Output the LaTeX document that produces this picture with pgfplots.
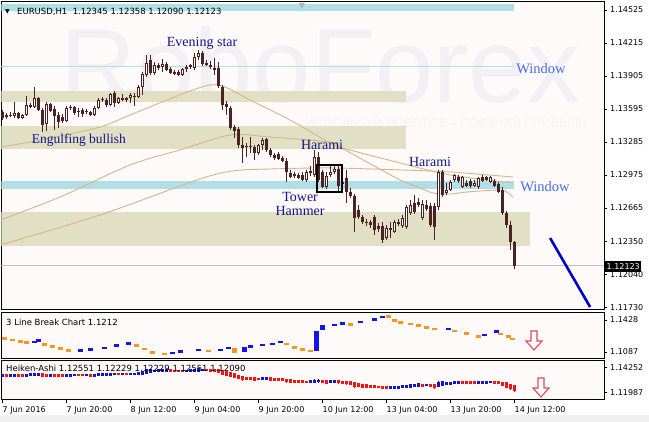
\documentclass[border=0pt]{standalone}
\usepackage{pgfplots}
\pgfplotsset{compat=1.18}
\usepackage{pgfplotstable}
\usepackage{fontspec}
\setmainfont{DejaVu Sans}
\newfontfamily\lser{Liberation Serif}
\newfontfamily\lsans{Liberation Sans}
\definecolor{bg}{RGB}{253,250,249}
\definecolor{bottomgray}{RGB}{240,240,240}
\definecolor{candle}{RGB}{74,36,36}
\definecolor{khaki}{RGB}{225,224,197}
\definecolor{pblue}{RGB}{176,223,229}
\definecolor{ma}{RGB}{214,181,140}
\definecolor{navyt}{RGB}{20,20,140}
\definecolor{winblue}{RGB}{70,110,230}
\definecolor{lborange}{RGB}{250,150,30}
\definecolor{lbblue}{RGB}{20,20,230}
\definecolor{hared}{RGB}{240,20,20}
\definecolor{hablue}{RGB}{20,20,200}
\definecolor{wm}{RGB}{242,240,244}
\definecolor{wm2}{RGB}{246,243,245}
\definecolor{arrowc}{RGB}{225,70,100}
\definecolor{trend}{RGB}{0,0,200}
\definecolor{pricegray}{RGB}{192,192,192}
\newcommand{\tickf}{\fontsize{8}{9}\selectfont}
\newcommand{\labf}{\fontsize{8.5}{10}\selectfont}

\pgfplotstableread{
i O H L C HO HC
0 1.13567 1.13586 1.13492 1.13511 1.13530 1.13539
1 1.13520 1.13558 1.13501 1.13539 1.13534 1.13530
2 1.13539 1.13567 1.13520 1.13530 1.13532 1.13539
3 1.13530 1.13661 1.13511 1.13558 1.13535 1.13565
4 1.13558 1.13567 1.13501 1.13511 1.13550 1.13534
5 1.13511 1.13548 1.13501 1.13539 1.13542 1.13525
6 1.13539 1.13718 1.13530 1.13633 1.13534 1.13605
7 1.13633 1.13652 1.13605 1.13614 1.13569 1.13626
8 1.13614 1.13802 1.13605 1.13699 1.13597 1.13680
9 1.13699 1.13708 1.13577 1.13586 1.13639 1.13642
10 1.13586 1.13605 1.13379 1.13445 1.13641 1.13504
11 1.13454 1.13661 1.13389 1.13642 1.13572 1.13537
12 1.13642 1.13652 1.13567 1.13577 1.13554 1.13609
13 1.13595 1.13624 1.13398 1.13530 1.13582 1.13537
14 1.13539 1.13567 1.13417 1.13473 1.13560 1.13499
15 1.13520 1.13548 1.13464 1.13483 1.13530 1.13504
16 1.13483 1.13624 1.13473 1.13605 1.13517 1.13546
17 1.13605 1.13633 1.13586 1.13614 1.13532 1.13609
18 1.13614 1.13624 1.13539 1.13558 1.13570 1.13584
19 1.13577 1.13605 1.13520 1.13567 1.13577 1.13567
20 1.13586 1.13605 1.13520 1.13548 1.13572 1.13565
21 1.13577 1.13595 1.13548 1.13567 1.13568 1.13572
22 1.13567 1.13577 1.13530 1.13539 1.13570 1.13553
23 1.13539 1.13624 1.13530 1.13605 1.13562 1.13574
24 1.13605 1.13699 1.13595 1.13680 1.13568 1.13645
25 1.13680 1.13708 1.13661 1.13689 1.13607 1.13686
26 1.13680 1.13699 1.13614 1.13633 1.13646 1.13657
27 1.13633 1.13746 1.13624 1.13736 1.13651 1.13686
28 1.13746 1.13765 1.13614 1.13652 1.13668 1.13694
29 1.13652 1.13708 1.13642 1.13699 1.13681 1.13675
30 1.13699 1.13736 1.13671 1.13680 1.13678 1.13697
31 1.13680 1.13708 1.13661 1.13699 1.13688 1.13687
32 1.13699 1.13746 1.13652 1.13727 1.13688 1.13706
33 1.13718 1.13746 1.13624 1.13708 1.13698 1.13699
34 1.13708 1.13821 1.13699 1.13802 1.13698 1.13757
35 1.13802 1.13943 1.13727 1.13924 1.13728 1.13849
36 1.13915 1.14103 1.13896 1.14028 1.13788 1.13985
37 1.14056 1.14103 1.13915 1.13934 1.13887 1.14002
38 1.13934 1.14037 1.13915 1.14009 1.13944 1.13973
39 1.14009 1.14028 1.13962 1.13981 1.13959 1.13995
40 1.13990 1.14065 1.13943 1.14018 1.13977 1.14004
41 1.14018 1.14037 1.13953 1.13962 1.13990 1.13992
42 1.13971 1.13990 1.13924 1.13934 1.13991 1.13955
43 1.13943 1.13962 1.13915 1.13924 1.13973 1.13936
44 1.13943 1.13962 1.13906 1.13915 1.13954 1.13931
45 1.13915 1.13981 1.13906 1.13971 1.13943 1.13942
46 1.13971 1.14009 1.13943 1.13990 1.13943 1.13978
47 1.13990 1.14018 1.13971 1.14009 1.13961 1.13997
48 1.13981 1.14122 1.13962 1.14084 1.13979 1.14037
49 1.14084 1.14150 1.14056 1.14122 1.14008 1.14103
50 1.14122 1.14141 1.14000 1.14018 1.14055 1.14070
51 1.14028 1.14056 1.14000 1.14009 1.14062 1.14023
52 1.14009 1.14047 1.13971 1.13990 1.14042 1.14004
53 1.13981 1.14075 1.13915 1.13962 1.14023 1.13983
54 1.13981 1.14037 1.13793 1.13812 1.14003 1.13905
55 1.13802 1.13821 1.13586 1.13633 1.13954 1.13704
56 1.13642 1.13671 1.13539 1.13614 1.13832 1.13617
57 1.13605 1.13624 1.13398 1.13417 1.13724 1.13511
58 1.13426 1.13445 1.13323 1.13389 1.13618 1.13396
59 1.13407 1.13426 1.13229 1.13257 1.13501 1.13331
60 1.13257 1.13332 1.13089 1.13229 1.13419 1.13226
61 1.13248 1.13276 1.13145 1.13238 1.13323 1.13226
62 1.13238 1.13332 1.13182 1.13248 1.13275 1.13250
63 1.13238 1.13257 1.13117 1.13182 1.13263 1.13199
64 1.13182 1.13267 1.13164 1.13257 1.13231 1.13218
65 1.13257 1.13323 1.13211 1.13304 1.13225 1.13274
66 1.13313 1.13323 1.13192 1.13211 1.13249 1.13260
67 1.13211 1.13229 1.13145 1.13164 1.13255 1.13187
68 1.13164 1.13182 1.13117 1.13136 1.13221 1.13150
69 1.13173 1.13192 1.13117 1.13126 1.13185 1.13152
70 1.13136 1.13154 1.13098 1.13108 1.13168 1.13124
71 1.13108 1.13136 1.12910 1.13004 1.13146 1.13040
72 1.12995 1.13023 1.12948 1.12957 1.13091 1.12980
73 1.12985 1.13004 1.12948 1.12967 1.13035 1.12976
74 1.12976 1.12995 1.12938 1.12948 1.13005 1.12964
75 1.12976 1.13004 1.12920 1.12929 1.12985 1.12957
76 1.12929 1.13023 1.12910 1.13004 1.12970 1.12966
77 1.12995 1.13061 1.12967 1.13014 1.12968 1.13008
78 1.12976 1.13211 1.12957 1.13145 1.12988 1.13072
79 1.13145 1.13192 1.12910 1.12929 1.13030 1.13044
80 1.13004 1.13023 1.12854 1.12863 1.13037 1.12936
81 1.12863 1.13004 1.12844 1.12967 1.12986 1.12923
82 1.12976 1.13070 1.12957 1.13004 1.12953 1.13001
83 1.13004 1.13061 1.12985 1.13032 1.12978 1.13020
84 1.13032 1.13079 1.12816 1.12873 1.12999 1.12950
85 1.12891 1.12938 1.12863 1.12910 1.12977 1.12903
86 1.12948 1.13023 1.12713 1.12816 1.12937 1.12877
87 1.12816 1.12854 1.12760 1.12779 1.12906 1.12802
88 1.12779 1.12797 1.12440 1.12572 1.12854 1.12647
89 1.12647 1.12694 1.12562 1.12581 1.12750 1.12621
90 1.12581 1.12600 1.12515 1.12534 1.12685 1.12558
91 1.12534 1.12562 1.12497 1.12525 1.12622 1.12530
92 1.12534 1.12553 1.12478 1.12506 1.12576 1.12518
93 1.12581 1.12600 1.12412 1.12459 1.12547 1.12513
94 1.12497 1.12525 1.12440 1.12468 1.12530 1.12482
95 1.12497 1.12534 1.12337 1.12365 1.12506 1.12433
96 1.12384 1.12506 1.12365 1.12478 1.12470 1.12433
97 1.12478 1.12534 1.12384 1.12459 1.12452 1.12464
98 1.12440 1.12553 1.12431 1.12534 1.12457 1.12490
99 1.12534 1.12562 1.12497 1.12515 1.12473 1.12527
100 1.12497 1.12600 1.12478 1.12572 1.12501 1.12537
101 1.12487 1.12694 1.12468 1.12675 1.12518 1.12581
102 1.12619 1.12741 1.12600 1.12694 1.12549 1.12664
103 1.12713 1.12788 1.12609 1.12628 1.12607 1.12685
104 1.12722 1.12760 1.12675 1.12694 1.12645 1.12713
105 1.12572 1.12741 1.12553 1.12703 1.12679 1.12642
106 1.12694 1.12741 1.12638 1.12656 1.12660 1.12682
107 1.12685 1.12713 1.12487 1.12506 1.12671 1.12598
108 1.12685 1.12713 1.12365 1.12487 1.12635 1.12563
109 1.12675 1.13023 1.12647 1.13004 1.12598 1.12837
110 1.13004 1.13023 1.12769 1.12788 1.12718 1.12896
111 1.12807 1.12901 1.12788 1.12835 1.12807 1.12833
112 1.12835 1.12929 1.12826 1.12910 1.12820 1.12877
113 1.12929 1.12985 1.12910 1.12976 1.12847 1.12950
114 1.12957 1.12976 1.12901 1.12920 1.12899 1.12938
115 1.12863 1.12967 1.12854 1.12957 1.12918 1.12910
116 1.12901 1.12929 1.12863 1.12873 1.12914 1.12891
117 1.12920 1.12938 1.12854 1.12873 1.12902 1.12896
118 1.12873 1.12929 1.12863 1.12901 1.12900 1.12891
119 1.12863 1.12957 1.12844 1.12948 1.12895 1.12903
120 1.12957 1.12976 1.12910 1.12920 1.12899 1.12941
121 1.12957 1.12967 1.12920 1.12929 1.12919 1.12943
122 1.12910 1.12967 1.12901 1.12957 1.12931 1.12933
123 1.12920 1.12938 1.12863 1.12873 1.12932 1.12898
124 1.12891 1.12910 1.12807 1.12816 1.12916 1.12856
125 1.12835 1.12863 1.12600 1.12619 1.12885 1.12729
126 1.12619 1.12638 1.12478 1.12506 1.12808 1.12560
127 1.12506 1.12544 1.12272 1.12346 1.12684 1.12417
128 1.12345 1.12358 1.12090 1.12123 1.12551 1.12229
}\maindata

\pgfplotstableread{
x y h
0.6 1.1231 0.0012
2.4 1.1215 0.0012
4.4 1.1199 0.0012
5.9 1.1188 0.0012
10.6 1.1167 0.0012
12.6 1.1146 0.0012
14.6 1.1124 0.0012
16.6 1.1103 0.0012
33.6 1.1156 0.0012
35.6 1.1119 0.0012
37.6 1.1082 0.0012
40.4 1.1066 0.0012
51.4 1.1098 0.0012
57.9 1.1103 0.0027
71.1 1.1172 0.0012
72.9 1.1135 0.0012
74.9 1.1114 0.0012
76.9 1.1098 0.0012
86.9 1.1380 0.0012
96.6 1.1465 0.0012
98.1 1.1423 0.0012
99.6 1.1401 0.0012
101.9 1.1385 0.0012
103.9 1.1369 0.0012
105.9 1.1348 0.0012
107.9 1.1332 0.0012
113.1 1.1311 0.0012
115.9 1.1284 0.0012
119.1 1.1252 0.0012
124.6 1.1279 0.0012
126.4 1.1252 0.0012
127.6 1.1226 0.0012
}\lborange

\pgfplotstableread{
x y h
8.1 1.1194 0.0012
9.1 1.1210 0.0012
19.4 1.1103 0.0012
22.1 1.1114 0.0012
25.4 1.1130 0.0012
28.6 1.1156 0.0012
31.6 1.1178 0.0012
42.6 1.1076 0.0012
44.6 1.1092 0.0012
48.9 1.1108 0.0012
54.4 1.1108 0.0012
56.6 1.1130 0.0012
60.6 1.1113 0.0027
61.9 1.1146 0.0012
64.9 1.1162 0.0012
67.4 1.1172 0.0012
69.6 1.1194 0.0012
78.6 1.1204 0.0106
79.9 1.1348 0.0027
82.9 1.1375 0.0012
85.1 1.1391 0.0012
89.6 1.1407 0.0012
92.9 1.1433 0.0012
94.9 1.1460 0.0012
111.6 1.1332 0.0012
120.4 1.1268 0.0012
123.6 1.1306 0.0012
}\lbblue

\pgfplotsset{
  panel/.style={
    scale only axis, width=602.5pt, xmin=-0.25, xmax=150.375,
    axis line style={line width=1pt, black},
    tick style={black, line width=0.8pt},
    tick align=outside, major tick length=3pt,
    ytick pos=right, yticklabel pos=right,
    yticklabel style={font=\tickf, anchor=west, inner sep=0pt, xshift=3pt},
    xtick=\empty, clip mode=individual,
  },
}

\begin{document}
\begin{tikzpicture}
\path[use as bounding box] (0,0) rectangle (649pt,422pt);
\fill[white] (0,0) rectangle (649pt,422pt);
\fill[bottomgray] (0,0) rectangle (649pt,7pt);
\fill[bg] (1.5pt,112pt) rectangle (604pt,420.5pt);
\fill[bg] (1.5pt,63.5pt) rectangle (604pt,109.5pt);
\fill[bg] (1.5pt,22pt) rectangle (604pt,61.5pt);
\node[anchor=base, inner sep=0pt, text=wm, font=\lsans\fontsize{105}{105}\selectfont] at (320pt,319pt) {RoboForex};
\node[inner sep=0pt, text=wm2, font=\lsans\fontsize{12.5}{13}\selectfont] at (446pt,300pt) {ИСПОЛЬЗУЙ РОБОТОВ – ПОЛУЧАЙ ПРИБЫЛЬ};

% ---------- main price panel ----------
\begin{axis}[panel, at={(1.5pt,112pt)}, anchor=south west, height=308.5pt,
  ymin=1.11708, ymax=1.14605,
  ytick={1.11730,1.12040,1.12350,1.12665,1.12975,1.13285,1.13595,1.13905,1.14215,1.14525},
  yticklabels={1.11730,1.12040,1.12350,1.12665,1.12975,1.13285,1.13595,1.13905,1.14215,1.14525},
]
\addplot[draw=none, fill=pblue] coordinates {(-1,1.14577)(127.9,1.14577)(127.9,1.14520)(-1,1.14520)} -- cycle;
\addplot[pblue, line width=1pt] coordinates {(-1,1.13990)(127.9,1.13990)};
\addplot[draw=none, fill=khaki] coordinates {(-1,1.13765)(100.9,1.13765)(100.9,1.13661)(-1,1.13661)} -- cycle;
\addplot[draw=none, fill=khaki] coordinates {(-1,1.13436)(100.9,1.13436)(100.9,1.13220)(-1,1.13220)} -- cycle;
\addplot[draw=none, fill=pblue] coordinates {(-1,1.12920)(127.9,1.12920)(127.9,1.12844)(-1,1.12844)} -- cycle;
\addplot[draw=none, fill=khaki] coordinates {(-1,1.12628)(131.9,1.12628)(131.9,1.12312)(-1,1.12312)} -- cycle;
% moving averages
\addplot[ma, line width=0.9pt, smooth] coordinates {(-0.6,1.13238)(6.9,1.13285)(14.4,1.13342)(24.4,1.13426)(31.9,1.13539)(41.1,1.13680)(46.9,1.13765)(51.9,1.13821)(55.6,1.13802)(61.9,1.13680)(71.9,1.13492)(81.9,1.13276)(85.6,1.13211)(91.1,1.13098)(99.4,1.12929)(104.4,1.12854)(107.6,1.12807)(111.9,1.12797)(116.1,1.12816)(124.4,1.12835)(126.4,1.12807)(127.6,1.12769)};
\addplot[ma, line width=0.9pt, smooth] coordinates {(-0.6,1.12553)(14.4,1.12769)(31.9,1.13070)(44.4,1.13211)(56.9,1.13351)(66.9,1.13332)(81.9,1.13285)(85.1,1.13229)(99.4,1.13089)(111.9,1.12976)(127.6,1.12901)};
\addplot[ma, line width=0.9pt, smooth] coordinates {(-0.6,1.12318)(24.4,1.12600)(48.6,1.12929)(57.6,1.13014)(66.9,1.13032)(81.9,1.13042)(99.4,1.13023)(111.9,1.13004)(127.6,1.12957)};
% current price line
\addplot[pricegray, line width=0.8pt] coordinates {(-0.25,1.12123)(150.375,1.12123)};
% candles: wicks, bodies, hollow interior of bullish bodies
\addplot[draw=none, mark=none, error bars/.cd, y dir=both, y explicit, error mark=none,
  error bar style={draw=candle, line width=1pt}]
  table[x=i, y=C, y error plus expr={max(\thisrow{H}-\thisrow{C},0)}, y error minus expr={max(\thisrow{C}-\thisrow{L},0)}] {\maindata};
\addplot[draw=none, mark=none, error bars/.cd, y dir=both, y explicit, error mark=none,
  error bar style={draw=candle, line width=3pt}]
  table[x=i, y=C, y error plus expr={max(\thisrow{O}-\thisrow{C},0)}, y error minus expr={max(\thisrow{C}-\thisrow{O},0)}] {\maindata};
\addplot[draw=none, mark=none, error bars/.cd, y dir=both, y explicit, error mark=none,
  error bar style={draw=bg, line width=1pt}]
  table[x=i, y expr={\thisrow{C}-0.0001}, y error plus expr={0}, y error minus expr={max(\thisrow{C}-\thisrow{O}-0.0002,0)}] {\maindata};
% pattern box and trend line
\addplot[black, line width=1.6pt] coordinates {(78.6,1.13070)(84.9,1.13070)(84.9,1.12816)(78.6,1.12816)} -- cycle;
\addplot[trend, line width=2.6pt] coordinates {(136.9,1.12384)(146.9,1.11736)};
% annotations
\node[inner sep=0pt, text=navyt, font=\lser\fontsize{14}{14}\selectfont] at (axis cs:49.9,1.14215) {Evening star};
\node[inner sep=0pt, text=navyt, font=\lser\fontsize{13.5}{14}\selectfont] at (axis cs:19.1,1.13304) {Engulfing bullish};
\node[inner sep=0pt, text=navyt, font=\lser\fontsize{14}{14}\selectfont] at (axis cs:79.9,1.13257) {Harami};
\node[inner sep=0pt, text=navyt, font=\lser\fontsize{14}{14}\selectfont] at (axis cs:106.9,1.13098) {Harami};
\node[inner sep=0pt, align=center, text=navyt, font=\lser\fontsize{14}{14}\selectfont] at (axis cs:74.4,1.12703) {Tower\\Hammer};
\node[inner sep=0pt, anchor=west, text=winblue, font=\lser\fontsize{14.5}{15}\selectfont] at (axis cs:128.4,1.13971) {Window};
\node[inner sep=0pt, anchor=west, text=winblue, font=\lser\fontsize{14.5}{15}\selectfont] at (axis cs:129.4,1.12863) {Window};
\end{axis}

% ---------- 3 line break panel ----------
\begin{axis}[panel, at={(1.5pt,63.5pt)}, anchor=south west, height=46pt,
  ymin=1.10177, ymax=1.15079,
  ytick={1.1087,1.1428}, yticklabels={1.1087,1.1428},
]
\addplot[draw=none, mark=none, error bars/.cd, y dir=both, y explicit, error mark=none,
  error bar style={draw=lborange, line width=5pt}]
  table[x=x, y=y, y error=h] {\lborange};
\addplot[draw=none, mark=none, error bars/.cd, y dir=both, y explicit, error mark=none,
  error bar style={draw=lbblue, line width=5pt}]
  table[x=x, y=y, y error=h] {\lbblue};
\end{axis}

% ---------- Heiken Ashi panel ----------
\begin{axis}[panel, at={(1.5pt,22pt)}, anchor=south west, height=39.5pt,
  ymin=1.11326, ymax=1.14904,
  ytick={1.11987,1.14252}, yticklabels={1.11987,1.14252},
  xtick={0,16,...,128}, xtick pos=bottom,
  xticklabels={7 Jun 2016,7 Jun 20:00,8 Jun 12:00,9 Jun 04:00,9 Jun 20:00,10 Jun 12:00,13 Jun 04:00,13 Jun 20:00,14 Jun 12:00},
  xticklabel style={font=\tickf, anchor=north west, inner sep=0pt, yshift=-3pt},
]
\addplot[draw=none, mark=none, x filter/.expression={\thisrow{HC}<\thisrow{HO} ? x : nan},
  error bars/.cd, y dir=both, y explicit, error mark=none, error bar style={draw=hared, line width=0.8pt}]
  table[x=i, y=HO, y error plus expr={max(\thisrow{H}-\thisrow{HO},0)}, y error minus expr={max(\thisrow{HO}-\thisrow{L},\thisrow{HO}-\thisrow{HC})}] {\maindata};
\addplot[draw=none, mark=none, x filter/.expression={\thisrow{HC}<\thisrow{HO} ? x : nan},
  error bars/.cd, y dir=both, y explicit, error mark=none, error bar style={draw=hared, line width=2.4pt, line cap=rect}]
  table[x=i, y=HO, y error plus expr={0}, y error minus expr={\thisrow{HO}-\thisrow{HC}}] {\maindata};
\addplot[draw=none, mark=none, x filter/.expression={\thisrow{HC}<\thisrow{HO} ? nan : x},
  error bars/.cd, y dir=both, y explicit, error mark=none, error bar style={draw=hablue, line width=0.8pt}]
  table[x=i, y=HO, y error plus expr={max(\thisrow{H}-\thisrow{HO},\thisrow{HC}-\thisrow{HO})}, y error minus expr={max(\thisrow{HO}-\thisrow{L},0)}] {\maindata};
\addplot[draw=none, mark=none, x filter/.expression={\thisrow{HC}<\thisrow{HO} ? nan : x},
  error bars/.cd, y dir=both, y explicit, error mark=none, error bar style={draw=hablue, line width=2.4pt, line cap=rect}]
  table[x=i, y=HO, y error plus expr={\thisrow{HC}-\thisrow{HO}}, y error minus expr={0}] {\maindata};
\end{axis}

% ---------- texts and markers ----------
\node[anchor=west, inner sep=0pt, font=\fontsize{6}{6}\selectfont] at (5pt,410.5pt) {▼};
\node[anchor=west, inner sep=0pt, font=\labf] at (17pt,410.5pt) {EURUSD,H1\ \ 1.12345 1.12358 1.12090 1.12123};
\node[inner sep=0pt, text=gray!60, font=\fontsize{8}{8}\selectfont] at (302pt,416pt) {▼};
\node[anchor=west, inner sep=0pt, font=\labf] at (6pt,100pt) {3 Line Break Chart 1.1212};
\node[anchor=west, inner sep=0pt, font=\labf] at (6pt,54pt) {Heiken-Ashi 1.12551 1.12229 1.12229 1.12551 1.12090};
\node[anchor=west, fill=black, text=white, font=\tickf, inner xsep=1.5pt, inner ysep=0pt, minimum height=11pt] at (605pt,155.5pt) {1.12123};
\draw[arrowc, line width=1.1pt, fill=white, line join=miter]
  (531pt,91pt) -- (537pt,91pt) -- (537pt,81pt) -- (542pt,81pt) -- (534pt,72pt) -- (526pt,81pt) -- (531pt,81pt) -- cycle;
\draw[arrowc, line width=1.1pt, fill=white, line join=miter]
  (538pt,44pt) -- (544pt,44pt) -- (544pt,34pt) -- (549pt,34pt) -- (541pt,25pt) -- (533pt,34pt) -- (538pt,34pt) -- cycle;
\end{tikzpicture}
\end{document}
